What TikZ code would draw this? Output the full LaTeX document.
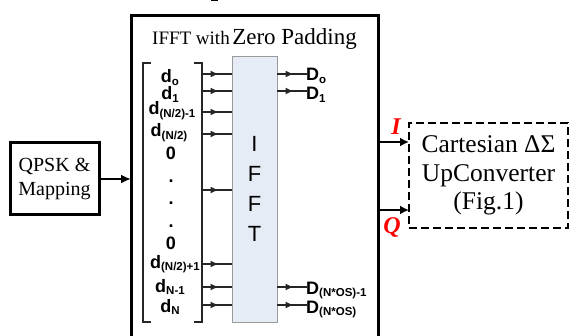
\documentclass[tikz,border=0pt]{standalone}
\usepackage{fontspec}
\setmainfont{Liberation Serif}
\setsansfont{Liberation Sans}
\usetikzlibrary{arrows.meta,decorations.markings}
\newcommand{\fsz}[1]{\fontsize{#1}{#1}\selectfont}
\newcommand{\dl}[2]{{\sffamily\bfseries\fsz{18}#1\raisebox{-2.5pt}{\fsz{11.5}#2}}}
\definecolor{ifftfill}{HTML}{E6ECF5}
\definecolor{ifftline}{HTML}{9A9A9A}
\begin{document}
\begin{tikzpicture}[x=1pt,y=-1pt,
  thickbox/.style={draw, line width=3pt, outer sep=0pt, inner sep=0pt},
  midarr/.style={line width=1.1pt, draw=black!85, postaction={decorate},
    decoration={markings, mark=at position 0.55 with {\arrow{Latex[length=8pt,width=7pt]}}}},
  bigarr/.style={line width=2.4pt, -{Latex[length=10pt,width=9pt]}},
  ioarr/.style={line width=2.2pt, -{Latex[length=9pt,width=9pt]}},
  lab/.style={anchor=base, inner sep=0pt},
  dlabw/.style={anchor=base west, inner sep=0pt},
  iq/.style={anchor=base, inner sep=0pt, text=red, font=\rmfamily\fontsize{24}{24}\selectfont\bfseries\itshape},
  brk/.style={line width=1.5pt, draw=black!85}
]
\useasboundingbox (0,0) rectangle (569,336);
\clip (0,0) rectangle (569,336);
\fill (211,0) rectangle (218,1.5);

% QPSK box
\node[thickbox, minimum width=89pt, minimum height=72pt, align=center,
  font=\rmfamily\fontsize{20}{24}\selectfont] (qpsk) at (54.5,179) {QPSK \&\\Mapping};

% main box
\node[thickbox, minimum width=247pt, minimum height=340pt, anchor=north west] (fftbox) at (131,16) {};
\node[lab, font=\rmfamily] (title) at (254.5,45) {{\fsz{19}IFFT with} {\fsz{23}Zero Padding}};

\draw[bigarr] (qpsk.east) -- (qpsk.east -| fftbox.west);

% bracket
\draw[brk] (151,63) -- (143,63) -- (143,322) -- (151,322);
\draw[brk] (194,63) -- (202,63) -- (202,322) -- (194,322);

% IFFT block
\node[fill=ifftfill, draw=ifftline, line width=0.9pt, minimum width=45pt, minimum height=266pt,
  outer sep=0pt, inner sep=0pt, align=center,
  font=\sffamily\fontsize{22}{30}\selectfont] (ifft) at (254.5,189) {I\\F\\F\\T};

% input labels
\node[lab] (l1) at (170,83) {\dl{d}{o}};
\node[lab] (l2) at (170,100) {\dl{d}{1}};
\node[lab] (l3) at (172,115) {\dl{d}{(N/2)-1}};
\node[lab] (l4) at (169,137) {\dl{d}{(N/2)}};
\node[lab, font=\sffamily\bfseries\fsz{18}] (l5) at (171,160) {0};
\node[lab, font=\sffamily\bfseries\fsz{18}] (dot1) at (171,183) {.};
\node[lab, font=\sffamily\bfseries\fsz{18}] (dot2) at (171,205) {.};
\node[lab, font=\sffamily\bfseries\fsz{18}] (dot3) at (171,228) {.};
\node[lab, font=\sffamily\bfseries\fsz{18}] (l6) at (171,250) {0};
\node[lab] (l7) at (175,268) {\dl{d}{(N/2)+1}};
\node[lab] (l8) at (170,292) {\dl{d}{N-1}};
\node[lab] (l9) at (170,312) {\dl{d}{N}};

% input arrows
\foreach \yy [count=\k] in {74,91,112,134,190,264,287,305} {
  \coordinate (in\k) at (202,\yy);
  \draw[midarr] (in\k) -- (in\k -| ifft.west);
}

% outputs
\foreach \yy [count=\k] in {74,91,287,305} {
  \coordinate (out\k) at (307,\yy);
  \draw[midarr] (out\k -| ifft.east) -- (out\k);
}
\node[dlabw] (D1) at (306,81) {\dl{D}{o}};
\node[dlabw] (D2) at (306,100) {\dl{D}{1}};
\node[dlabw] (D3) at (306,294) {\dl{D}{(N*OS)-1}};
\node[dlabw] (D4) at (306,313) {\dl{D}{(N*OS)}};

% Cartesian box
\node[draw, line width=2.8pt, dash pattern=on 8pt off 4pt, outer sep=0pt, inner sep=0pt,
  minimum width=159pt, minimum height=105pt, align=center,
  font=\rmfamily\fontsize{25.5}{28.5}\selectfont] (cds) at (488.5,175.5)
  {Cartesian ΔΣ\\UpConverter\\(Fig.1)};

\coordinate (Iout) at (378,142);
\coordinate (Qout) at (378,210);
\draw[ioarr] (Iout) -- (Iout -| cds.west);
\draw[ioarr] (Qout) -- (Qout -| cds.west);
\node[iq] (Ilab) at (396,135) {I};
\node[iq] (Qlab) at (392,234) {Q};
\end{tikzpicture}
\end{document}
